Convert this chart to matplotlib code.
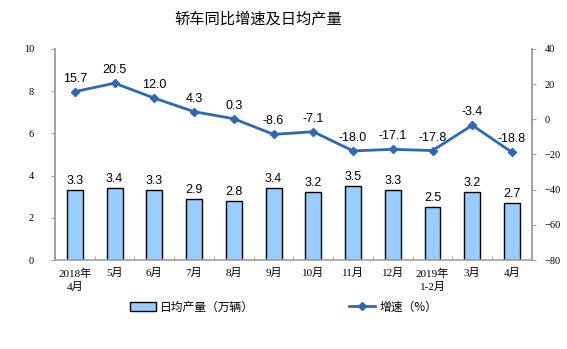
import matplotlib
matplotlib.use("Agg")
import matplotlib.pyplot as plt
import numpy as np

categories = ["2018年\n4月", "5月", "6月", "7月", "8月", "9月", "10月", "11月", "12月", "2019年\n1-2月", "3月", "4月"]
daily_output = [3.3, 3.4, 3.3, 2.9, 2.8, 3.4, 3.2, 3.5, 3.3, 2.5, 3.2, 2.7]
growth = [15.7, 20.5, 12.0, 4.3, 0.3, -8.6, -7.1, -18.0, -17.1, -17.8, -3.4, -18.8]

serif = ["Liberation Serif", "Noto Sans CJK SC"]
sans = ["Liberation Sans", "Noto Sans CJK SC"]

fig = plt.figure(figsize=(5.67, 3.49), dpi=100)
ax = fig.add_axes([0.097, 0.255, 0.841, 0.605])
ax2 = ax.twinx()

x = np.arange(len(categories))
bars = ax.bar(x, daily_output, width=0.4, color="#99CCFF", edgecolor="black", linewidth=1.0,
              label="日均产量（万辆）", zorder=2)
line, = ax2.plot(x, growth, color="#2E69B3", linewidth=2, marker="D", markersize=4,
                 label="增速（%）", zorder=3)

ax.set_xlim(-0.5, len(categories) - 0.5)
ax.set_ylim(0, 10)
ax.set_yticks([0, 2, 4, 6, 8, 10])
ax2.set_ylim(-80, 40)
ax2.set_yticks([-80, -60, -40, -20, 0, 20, 40])

for a in (ax, ax2):
    a.spines["top"].set_visible(False)
    for s in ("left", "right", "bottom"):
        a.spines[s].set_color("#A0A0A0")
        a.spines[s].set_linewidth(1.2)
ax2.spines["bottom"].set_visible(False)

ax.set_xticks(x)
ax.set_xticklabels(categories, fontfamily=serif, fontsize=8, linespacing=1.4)
ax.tick_params(axis="x", length=0, pad=6)
ax.set_xticks(np.arange(-0.5, len(categories) + 0.5, 1), minor=True)
ax.tick_params(axis="x", which="minor", length=3, color="#A0A0A0", direction="in")
ax.tick_params(axis="y", length=3, color="#A0A0A0", labelsize=7.5, pad=12)
ax2.tick_params(axis="y", length=3, color="#A0A0A0", labelsize=7.5, pad=6)
for lab in ax.get_yticklabels() + ax2.get_yticklabels():
    lab.set_fontfamily(serif)

for xi, v in zip(x, daily_output):
    ax.text(xi, v + 0.15, f"{v:.1f}", ha="center", va="bottom", fontsize=9, fontfamily=sans)
for xi, v in zip(x, growth):
    ax2.text(xi, v + 4, f"{v:.1f}", ha="center", va="bottom", fontsize=9, fontfamily=sans)

fig.text(0.455, 0.945, "轿车同比增速及日均产量", ha="center", va="center", fontsize=11,
         fontfamily=["Noto Sans CJK SC"])

leg = fig.legend(handles=[bars, line], loc="center", bbox_to_anchor=(0.5, 0.12), ncol=2,
                 frameon=False, prop={"family": "Noto Sans CJK SC", "size": 8.5},
                 handlelength=2.2, columnspacing=8, handletextpad=0.4)

fig.savefig("out.png", dpi=100)
